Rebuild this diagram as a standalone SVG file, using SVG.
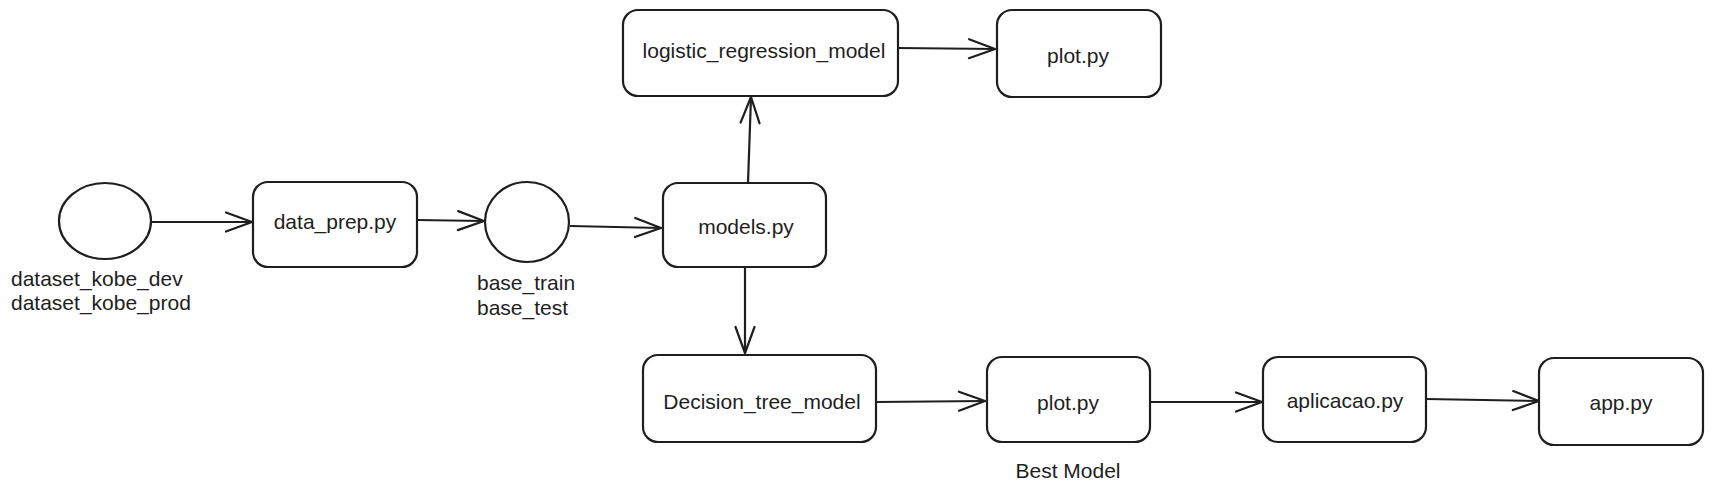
<svg xmlns="http://www.w3.org/2000/svg" width="1712" height="493" viewBox="0 0 1712 493">
<style>
.shape{fill:#ffffff;stroke:#1e1e1e;stroke-width:2.2;}
.lbl{font-family:"Liberation Sans",Arial,sans-serif;font-size:21px;fill:#1e1e1e;}
.c{text-anchor:middle;}
.conn{fill:none;stroke:#1e1e1e;stroke-width:2.2;marker-end:url(#arr);}
</style>
<defs>
<marker id="arr" markerUnits="userSpaceOnUse" viewBox="-30 -12 32 24" refX="0" refY="0" markerWidth="32" markerHeight="24" orient="auto">
<path d="M-26,-9.5 L0,0 L-26,9.5" fill="none" stroke="#1e1e1e" stroke-width="2.2" stroke-linecap="round" stroke-linejoin="round"/>
</marker>
</defs>
<rect width="1712" height="493" fill="#ffffff"/>
<g id="connectors">
<line class="conn" x1="151" y1="222" x2="252" y2="222"/>
<line class="conn" x1="417" y1="220" x2="484" y2="221"/>
<line class="conn" x1="570" y1="226" x2="661" y2="228"/>
<line class="conn" x1="748" y1="183" x2="751" y2="97"/>
<line class="conn" x1="898" y1="48" x2="995" y2="49"/>
<line class="conn" x1="745" y1="267" x2="745" y2="353"/>
<line class="conn" x1="876" y1="402" x2="985" y2="401"/>
<line class="conn" x1="1150" y1="402" x2="1262" y2="402"/>
<line class="conn" x1="1426" y1="399" x2="1539" y2="401"/>
</g>
<g id="dataset">
<ellipse class="shape" cx="105" cy="221" rx="46" ry="38"/>
<text class="lbl" x="11" y="286">dataset_kobe_dev</text>
<text class="lbl" x="11" y="310">dataset_kobe_prod</text>
</g>
<g id="data_prep">
<rect class="shape" x="253" y="182" width="164" height="85" rx="15"/>
<text class="lbl c" x="335" y="229">data_prep.py</text>
</g>
<g id="base">
<ellipse class="shape" cx="527" cy="222" rx="42" ry="40"/>
<text class="lbl" x="477" y="290">base_train</text>
<text class="lbl" x="477" y="315">base_test</text>
</g>
<g id="models">
<rect class="shape" x="663" y="183" width="163" height="84" rx="15"/>
<text class="lbl c" x="746" y="234">models.py</text>
</g>
<g id="logistic">
<rect class="shape" x="623" y="10" width="275" height="86" rx="15"/>
<text class="lbl c" x="764" y="58">logistic_regression_model</text>
</g>
<g id="plot_top">
<rect class="shape" x="997" y="10" width="164" height="87" rx="15"/>
<text class="lbl c" x="1078" y="63">plot.py</text>
</g>
<g id="decision">
<rect class="shape" x="643" y="355" width="233" height="87" rx="15"/>
<text class="lbl c" x="762" y="409">Decision_tree_model</text>
</g>
<g id="plot_bottom">
<rect class="shape" x="987" y="357" width="163" height="85" rx="15"/>
<text class="lbl c" x="1068" y="410">plot.py</text>
<text class="lbl c" x="1068" y="478">Best Model</text>
</g>
<g id="aplicacao">
<rect class="shape" x="1263" y="357" width="163" height="85" rx="15"/>
<text class="lbl c" x="1345" y="408">aplicacao.py</text>
</g>
<g id="app">
<rect class="shape" x="1539" y="358" width="164" height="87" rx="15"/>
<text class="lbl c" x="1621" y="410">app.py</text>
</g>
</svg>
